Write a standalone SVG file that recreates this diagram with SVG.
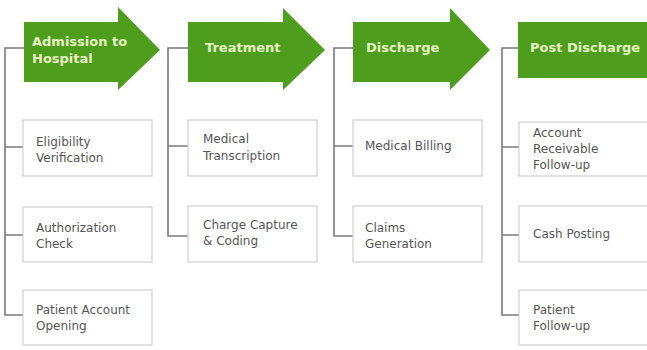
<svg xmlns="http://www.w3.org/2000/svg" width="647" height="350" viewBox="0 0 647 350">
<style>
.stage{fill:#4f9d1c}
.st{font-family:"DejaVu Sans",Verdana,sans-serif;font-size:13px;font-weight:bold;fill:#e4f4c2}
.box{fill:#fff;stroke:#cfcfcf;stroke-width:1.2}
.bt{font-family:"DejaVu Sans",Verdana,sans-serif;font-size:12px;fill:#555}
.con{fill:none;stroke:#7a7a7a;stroke-width:1.6}
</style>
<rect width="647" height="350" fill="#fff"/>
<g id="connectors">
<path class="con" d="M24 48H5V315H23M5 147H23M5 235H23"/>
<path class="con" d="M188 48H168V236H188M168 146H188"/>
<path class="con" d="M353 48H334V236H353M334 146H353"/>
<path class="con" d="M518 48H502V315H519M502 147H519M502 235H519"/>
</g>
<g id="admission">
<polygon class="stage" points="24,22 118,22 118,7 160,50 118,90 118,82 24,82"/>
<text class="st" x="32" y="46">Admission to</text>
<text class="st" x="32" y="63">Hospital</text>
</g>
<g id="treatment">
<polygon class="stage" points="188,22 283,22 283,8 325,50 283,90 283,82 188,82"/>
<text class="st" x="205" y="52">Treatment</text>
</g>
<g id="discharge">
<polygon class="stage" points="353,22 450,22 450,8 490,50 450,90 450,82 353,82"/>
<text class="st" x="366" y="52">Discharge</text>
</g>
<g id="post-discharge">
<rect class="stage" x="518" y="22" width="135" height="56"/>
<text class="st" x="530" y="52">Post Discharge</text>
</g>
<g id="eligibility">
<rect class="box" x="23" y="120" width="129" height="56"/>
<text class="bt" x="36" y="146">Eligibility</text>
<text class="bt" x="36" y="162">Verification</text>
</g>
<g id="authorization">
<rect class="box" x="23" y="207" width="129" height="55"/>
<text class="bt" x="36" y="232">Authorization</text>
<text class="bt" x="36" y="248">Check</text>
</g>
<g id="patient-account">
<rect class="box" x="23" y="290" width="129" height="55"/>
<text class="bt" x="36" y="314">Patient Account</text>
<text class="bt" x="36" y="330">Opening</text>
</g>
<g id="medical-transcription">
<rect class="box" x="188" y="120" width="129" height="56"/>
<text class="bt" x="203" y="143">Medical</text>
<text class="bt" x="203" y="160">Transcription</text>
</g>
<g id="charge-capture">
<rect class="box" x="188" y="206" width="129" height="56"/>
<text class="bt" x="203" y="229">Charge Capture</text>
<text class="bt" x="203" y="245">&amp; Coding</text>
</g>
<g id="medical-billing">
<rect class="box" x="353" y="120" width="129" height="56"/>
<text class="bt" x="365" y="150">Medical Billing</text>
</g>
<g id="claims-generation">
<rect class="box" x="353" y="206" width="129" height="56"/>
<text class="bt" x="365" y="232">Claims</text>
<text class="bt" x="365" y="248">Generation</text>
</g>
<g id="account-receivable">
<rect class="box" x="519" y="122" width="135" height="54"/>
<text class="bt" x="533" y="137">Account</text>
<text class="bt" x="533" y="153">Receivable</text>
<text class="bt" x="533" y="169">Follow-up</text>
</g>
<g id="cash-posting">
<rect class="box" x="519" y="206" width="135" height="56"/>
<text class="bt" x="533" y="238">Cash Posting</text>
</g>
<g id="patient-followup">
<rect class="box" x="519" y="290" width="135" height="55"/>
<text class="bt" x="533" y="314">Patient</text>
<text class="bt" x="533" y="330">Follow-up</text>
</g>
</svg>
